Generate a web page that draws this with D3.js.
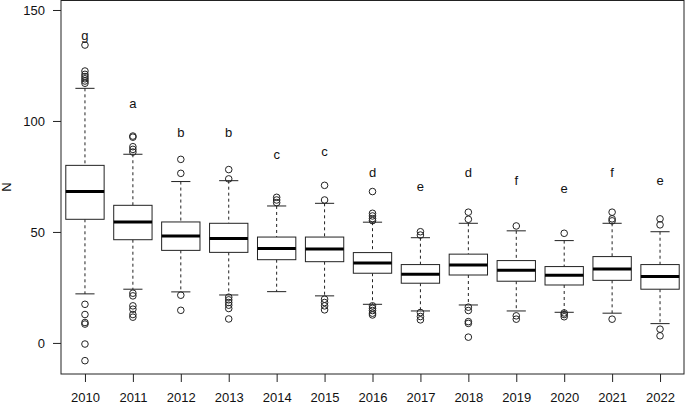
<!DOCTYPE html>
<html>
<head>
<meta charset="utf-8">
<script src="https://d3js.org/d3.v7.min.js"></script>
<style>
  body { margin: 0; background: #fff; }
  svg text { font-family: "Liberation Sans", Arial, sans-serif; }
</style>
</head>
<body>
<script>
//data
var years = ['2010','2011','2012','2013','2014','2015','2016','2017','2018','2019','2020','2021','2022'];
var whiskLo = [22.1, 24.2, 23.0, 21.6, 23.1, 21.2, 17.4, 14.4, 17.1, 14.4, 13.8, 13.4, 8.7];
var q1 = [55.7, 46.5, 41.7, 40.8, 37.5, 36.6, 31.4, 26.9, 30.6, 27.8, 26.1, 28.2, 24.2];
var medians = [68.2, 54.5, 48.2, 47.0, 42.5, 42.3, 36.0, 30.9, 35.1, 32.7, 30.5, 33.3, 29.9];
var q3 = [80.0, 62.0, 54.5, 53.9, 47.7, 47.7, 40.7, 35.3, 40.0, 37.1, 34.4, 38.9, 35.3];
var whiskHi = [114.7, 85.0, 72.7, 73.1, 61.7, 62.9, 54.4, 47.4, 53.9, 50.5, 46.1, 53.9, 50.1];
var outliers = [
  [134.2, 122.5, 121, 120, 119, 118, 117, 17.4, 12.8, 9.2, 8.5, -0.5, -8.0],
  [93.2, 92.7, 88.4, 87.2, 86, 22.4, 21.2, 16.7, 15.2, 12.8, 11.6],
  [82.7, 76.4, 21.5, 14.7],
  [78.1, 73.9, 20.6, 19.4, 18.2, 17, 15.5, 10.8],
  [65.6, 64.4, 63.2],
  [71.0, 64.4, 19.7, 18.2, 16.7, 14.9],
  [68.2, 58.4, 57.2, 56, 55.1, 16.7, 15.6, 14.6, 13.4, 12.6],
  [50.1, 48.6, 13.7, 11.9, 10.4],
  [58.9, 55.7, 16.1, 14.6, 9.6, 8.8, 2.6],
  [52.7, 12.2, 10.7],
  [49.4, 13.5, 12.8, 11.8],
  [58.9, 55.9, 55.0, 10.7],
  [55.9, 53.2, 6.2, 3.2]
];
var letters = ['g','a','b','b','c','c','d','e','d','f','e','f','e'];
var letterY = [138.5, 107.9, 95.0, 95.0, 84.7, 86.2, 76.6, 70.3, 76.6, 73.0, 69.4, 76.6, 73.0];
var yTicks = [0, 50, 100, 150];

//settings
var width = 685, height = 404;
var plot = {left: 61, right: 684, top: 0, bottom: 374};

var svg = d3.select('body').append('svg')
  .attr('width', width)
  .attr('height', height);

var x = d3.scaleLinear().domain([0.5, years.length + 0.5]).range([plot.left, plot.right]);
var y = d3.scaleLinear().domain([-14, 154.5]).range([plot.bottom, plot.top]);
var boxW = x(1.8) - x(1);   // boxwex 0.8
var capW = boxW / 2;
var ink = '#222';

//axes
var yAxis = svg.append('g')
  .attr('transform', 'translate(' + plot.left + ',0)')
  .call(d3.axisLeft(y).tickValues(yTicks).tickSize(8).tickPadding(8));
var xAxis = svg.append('g')
  .attr('transform', 'translate(0,' + plot.bottom + ')')
  .call(d3.axisBottom(x).tickValues(d3.range(1, years.length + 1))
    .tickFormat(function(d) { return years[d - 1]; }).tickSize(8).tickPadding(11));
[yAxis, xAxis].forEach(function(a) {
  a.select('.domain').remove();
  a.selectAll('line').attr('stroke', ink);
  a.selectAll('text').attr('fill', '#111').style('font-size', '13px');
});

svg.append('text')
  .attr('transform', 'translate(11,' + (plot.top + plot.bottom) / 2 + ') rotate(-90)')
  .attr('text-anchor', 'middle')
  .attr('fill', '#111')
  .style('font-size', '13px')
  .text('N');

//boxes
var boxes = svg.selectAll('.box')
  .data(years)
  .enter()
  .append('g')
  .attr('class', 'box');

boxes.each(function(d, i) {
  var g = d3.select(this);
  var cx = x(i + 1);
  // whiskers
  g.append('line')
    .attr('x1', cx).attr('x2', cx)
    .attr('y1', y(whiskHi[i])).attr('y2', y(q3[i]))
    .attr('stroke', ink).attr('stroke-dasharray', '3,3');
  g.append('line')
    .attr('x1', cx).attr('x2', cx)
    .attr('y1', y(q1[i])).attr('y2', y(whiskLo[i]))
    .attr('stroke', ink).attr('stroke-dasharray', '3,3');
  [whiskHi[i], whiskLo[i]].forEach(function(v) {
    g.append('line')
      .attr('x1', cx - capW / 2).attr('x2', cx + capW / 2)
      .attr('y1', y(v)).attr('y2', y(v))
      .attr('stroke', ink);
  });
  // box
  g.append('rect')
    .attr('x', cx - boxW / 2).attr('width', boxW)
    .attr('y', y(q3[i])).attr('height', y(q1[i]) - y(q3[i]))
    .attr('fill', '#fff').attr('stroke', ink);
  g.append('line')
    .attr('x1', cx - boxW / 2).attr('x2', cx + boxW / 2)
    .attr('y1', y(medians[i])).attr('y2', y(medians[i]))
    .attr('stroke', '#000').attr('stroke-width', 3);
  // outliers
  g.selectAll('circle')
    .data(outliers[i])
    .enter()
    .append('circle')
    .attr('cx', cx).attr('cy', function(v) { return y(v); })
    .attr('r', 3.3)
    .attr('fill', 'none').attr('stroke', ink);
  // letter
  g.append('text')
    .attr('x', cx).attr('y', y(letterY[i]))
    .attr('text-anchor', 'middle')
    .attr('dominant-baseline', 'central')
    .attr('fill', '#111')
    .style('font-size', '13px')
    .text(letters[i]);
});

//frame
svg.append('rect')
  .attr('x', plot.left).attr('y', plot.top + 0.5)
  .attr('width', plot.right - plot.left).attr('height', plot.bottom - plot.top - 0.5)
  .attr('fill', 'none').attr('stroke', ink);
</script>
</body>
</html>
